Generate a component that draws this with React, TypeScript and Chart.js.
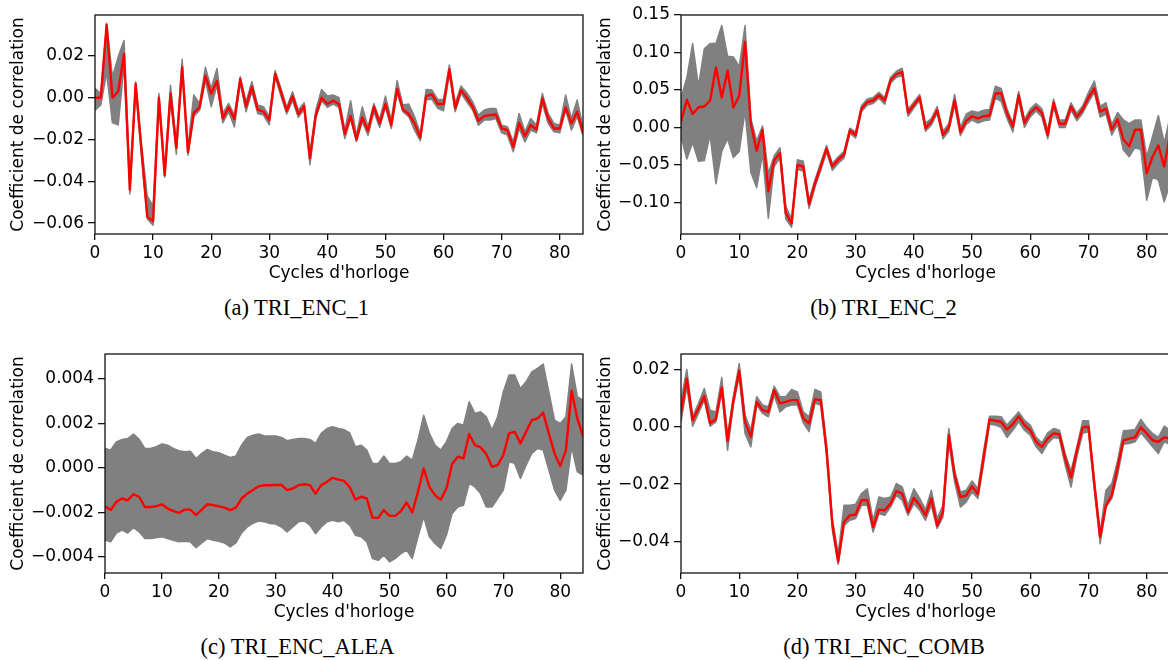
import React, { useEffect, useRef } from 'react';
import { Chart, registerables } from 'chart.js';

Chart.register(...registerables);

// ---------------- data ----------------
const cycles = [
  0, 1, 2, 3, 4, 5, 6, 7, 8, 9, 10, 11, 12, 13, 14, 15, 16, 17, 18, 19,
  20, 21, 22, 23, 24, 25, 26, 27, 28, 29, 30, 31, 32, 33, 34, 35, 36, 37, 38, 39,
  40, 41, 42, 43, 44, 45, 46, 47, 48, 49, 50, 51, 52, 53, 54, 55, 56, 57, 58, 59,
  60, 61, 62, 63, 64, 65, 66, 67, 68, 69, 70, 71, 72, 73, 74, 75, 76, 77, 78, 79,
  80, 81, 82, 83, 84,
];
const xTicks = [0, 10, 20, 30, 40, 50, 60, 70, 80];

// (a) TRI_ENC_1
const aMean = [
  0.0, 0.0, 0.0349, 0.0, 0.003, 0.021, -0.044, 0.0066, -0.025, -0.057,
  -0.059, 0.0, -0.037, 0.002, -0.024, 0.0146, -0.026, -0.0072, -0.0046, 0.0104,
  0.002, 0.008, -0.0099, -0.0046, -0.0102, 0.009, -0.0043, 0.0053, -0.0056, -0.0067,
  -0.0107, 0.0114, 0.0029, -0.0062, 0.0008, -0.0078, -0.004, -0.029, -0.0083, 0.0,
  -0.003, -0.0014, -0.003, -0.0174, -0.0088, -0.02, -0.0094, -0.0158, -0.0043, -0.0123,
  -0.003, -0.0131, 0.0042, -0.0056, -0.0078, -0.0123, -0.019, 0.0008, 0.0016, -0.003,
  -0.003, 0.0136, -0.0051, 0.0037, 0.0, -0.0043, -0.011, -0.0088, -0.0083, -0.008,
  -0.0147, -0.0155, -0.0235, -0.012, -0.0184, -0.0131, -0.0152, -0.0003, -0.0099, -0.0147,
  -0.0147, -0.0046, -0.0123, -0.0067, -0.0168,
];
const aHigh = [
  0.0045, 0.002, 0.0357, 0.01, 0.0197, 0.0274, -0.039, 0.0077, -0.022, -0.047,
  -0.052, 0.002, -0.0347, 0.006, -0.022, 0.0184, -0.0235, 0.0013, -0.0027, 0.0146,
  0.0045, 0.014, -0.0075, -0.0027, -0.0083, 0.01, -0.002, 0.0077, -0.0035, -0.0043,
  -0.009, 0.013, 0.0045, -0.0046, 0.0029, -0.006, -0.0024, -0.0267, -0.006, 0.004,
  0.0008, 0.0013, 0.0, -0.0155, -0.0014, -0.018, -0.0043, -0.014, -0.0027, -0.0104,
  0.0008, -0.0107, 0.0082, -0.0035, -0.003, -0.009, -0.0171, 0.004, 0.0037, -0.0008,
  -0.0008, 0.0157, -0.0027, 0.0056, 0.0024, -0.0019, -0.0083, -0.0059, -0.0051, -0.0051,
  -0.0131, -0.0139, -0.0211, -0.0075, -0.0163, -0.0099, -0.0131, 0.0021, -0.0075, -0.0123,
  -0.0131, 0.0013, -0.0099, -0.0011, -0.0139,
];
const aLow = [
  -0.006, -0.0035, 0.012, -0.012, -0.013, 0.016, -0.046, 0.0037, -0.028, -0.058,
  -0.061, -0.002, -0.038, -0.001, -0.027, 0.013, -0.0275, -0.009, -0.006, 0.0085,
  -0.0043, 0.006, -0.012, -0.0067, -0.014, 0.007, -0.0067, 0.003, -0.0075, -0.0083,
  -0.013, 0.01, 0.0008, -0.0078, -0.0014, -0.0094, -0.0056, -0.032, -0.0099, -0.0014,
  -0.0046, -0.003, -0.0046, -0.0195, -0.0099, -0.021, -0.0115, -0.018, -0.0067, -0.0142,
  -0.0043, -0.0147, 0.0024, -0.0067, -0.009, -0.0155, -0.0206, -0.0008, -0.0008, -0.0051,
  -0.0062, 0.0114, -0.0067, 0.0021, -0.0019, -0.0059, -0.0131, -0.0107, -0.0107, -0.0099,
  -0.0168, -0.0179, -0.0259, -0.0147, -0.0211, -0.0155, -0.0168, -0.0027, -0.0123, -0.0163,
  -0.0168, -0.0059, -0.0155, -0.009, -0.0179,
];
const aYTicks = [-0.06, -0.04, -0.02, 0.0, 0.02];

// (b) TRI_ENC_2
const bMean = [
  0.0076, 0.037, 0.018, 0.027, 0.028, 0.036, 0.08, 0.04, 0.076, 0.027,
  0.042, 0.114, 0.005, -0.031, -0.003, -0.085, -0.044, -0.034, -0.114, -0.128,
  -0.05, -0.052, -0.102, -0.075, -0.052, -0.028, -0.052, -0.043, -0.036, -0.004,
  -0.01, 0.025, 0.034, 0.036, 0.043, 0.036, 0.063, 0.071, 0.074, 0.0195,
  0.03, 0.04, -0.001, 0.0076, 0.023, -0.01, 0.0, 0.036, -0.006, 0.009,
  0.015, 0.012, 0.015, 0.016, 0.045, 0.046, 0.019, 0.001, 0.043, 0.006,
  0.0195, 0.027, 0.0195, -0.01, 0.033, 0.005, 0.005, 0.028, 0.014, 0.024,
  0.04, 0.052, 0.021, 0.025, -0.003, 0.011, -0.016, -0.025, -0.003, -0.003,
  -0.061, -0.039, -0.024, -0.052, -0.01,
];
const bHigh = [
  0.04, 0.066, 0.112, 0.055, 0.105, 0.112, 0.112, 0.136, 0.095, 0.094,
  0.081, 0.136, 0.012, -0.018, 0.002, -0.061, -0.038, -0.027, -0.105, -0.122,
  -0.043, -0.045, -0.097, -0.07, -0.047, -0.024, -0.048, -0.039, -0.032, -0.001,
  -0.006, 0.029, 0.038, 0.04, 0.047, 0.04, 0.067, 0.075, 0.079, 0.024,
  0.034, 0.044, 0.006, 0.012, 0.028, -0.005, 0.005, 0.044, 0.0, 0.018,
  0.022, 0.02, 0.023, 0.024, 0.055, 0.052, 0.025, 0.006, 0.048, 0.011,
  0.025, 0.032, 0.025, -0.004, 0.038, 0.01, 0.01, 0.033, 0.019, 0.029,
  0.047, 0.062, 0.028, 0.033, 0.004, 0.02, 0.01, 0.005, 0.01, 0.01,
  -0.039, -0.012, 0.016, -0.021, 0.014,
];
const bLow = [
  -0.012, -0.042, -0.02, -0.045, -0.044, -0.01, -0.075, -0.032, -0.015, -0.04,
  -0.032, 0.022, -0.06, -0.08, -0.035, -0.121, -0.052, -0.04, -0.122, -0.133,
  -0.056, -0.058, -0.108, -0.08, -0.057, -0.033, -0.057, -0.048, -0.041, -0.008,
  -0.014, 0.021, 0.03, 0.032, 0.039, 0.031, 0.059, 0.067, 0.069, 0.015,
  0.026, 0.036, -0.005, 0.003, 0.019, -0.015, -0.005, 0.03, -0.011, 0.004,
  0.01, 0.006, 0.009, 0.01, 0.039, 0.035, 0.012, -0.006, 0.037, 0.0,
  0.014, 0.022, 0.014, -0.015, 0.028, 0.0, 0.0, 0.023, 0.009, 0.019,
  0.034, 0.047, 0.014, 0.018, -0.01, 0.004, -0.03, -0.039, -0.026, -0.03,
  -0.097, -0.066, -0.07, -0.099, -0.075,
];
const bYTicks = [-0.1, -0.05, 0.0, 0.05, 0.1, 0.15];

// (c) TRI_ENC_ALEA
const cMean = [
  -0.00173, -0.0019, -0.00153, -0.00138, -0.00146, -0.00119, -0.0013, -0.00176, -0.00176, -0.00173,
  -0.00164, -0.00183, -0.00194, -0.00203, -0.00188, -0.00188, -0.00213, -0.00188, -0.00164, -0.00168,
  -0.00173, -0.00179, -0.0019, -0.00179, -0.00138, -0.00116, -0.001, -0.00083, -0.00078, -0.00078,
  -0.00077, -0.00077, -0.001, -0.00093, -0.00078, -0.00074, -0.00078, -0.00116, -0.00078, -0.00063,
  -0.00045, -0.00053, -0.00059, -0.00086, -0.00143, -0.0013, -0.00138, -0.00224, -0.00225, -0.0019,
  -0.00216, -0.00216, -0.00195, -0.00156, -0.00201, -0.00108, -0.00003, -0.00086, -0.00123, -0.00143,
  -0.00093, 0.00017, 0.0005, 0.00042, 0.00152, 0.00102, 0.00092, 0.00062, 0.00005, 0.00012,
  0.00057, 0.00155, 0.00162, 0.0011, 0.00162, 0.00215, 0.00222, 0.00248, 0.00155, 0.00065,
  0.00008, 0.0008, 0.00347, 0.00222, 0.00143,
];
const cHigh = [
  0.00087, 0.0008, 0.00117, 0.00128, 0.00132, 0.00152, 0.00128, 0.00087, 0.00087, 0.00095,
  0.00107, 0.00102, 0.00087, 0.00077, 0.00072, 0.00075, 0.00042, 0.00065, 0.00083, 0.00072,
  0.00068, 0.00057, 0.00047, 0.00053, 0.00102, 0.00137, 0.00147, 0.00152, 0.00143, 0.00143,
  0.00143, 0.00137, 0.00122, 0.00128, 0.00132, 0.00132, 0.00128, 0.0011, 0.00155, 0.00177,
  0.00185, 0.00177, 0.00172, 0.00157, 0.00095, 0.00102, 0.0008, 0.0002, 0.0002, 0.00053,
  0.0002, 0.0002, 0.00027, 0.00053, 0.00035, 0.00125, 0.00237, 0.00155, 0.00102, 0.0008,
  0.00117, 0.00177, 0.002, 0.00192, 0.00297, 0.00245, 0.00252, 0.0023, 0.0017, 0.0023,
  0.00342, 0.00417, 0.00417, 0.00357, 0.00387, 0.00432, 0.00447, 0.00467, 0.00342, 0.00215,
  0.002, 0.0023, 0.00467, 0.0032, 0.00305,
];
const cLow = [
  -0.00326, -0.00333, -0.00293, -0.0028, -0.00293, -0.00269, -0.00288, -0.00318, -0.00318, -0.00314,
  -0.0031, -0.00318, -0.00326, -0.00333, -0.0033, -0.00333, -0.00359, -0.00338, -0.00318, -0.00326,
  -0.0033, -0.00338, -0.00356, -0.00338, -0.00293, -0.00266, -0.0025, -0.00239, -0.00243, -0.0025,
  -0.00253, -0.00266, -0.00288, -0.00266, -0.00243, -0.00239, -0.00258, -0.00296, -0.00266, -0.00243,
  -0.00236, -0.00243, -0.00236, -0.00258, -0.00303, -0.0031, -0.00333, -0.00408, -0.00416, -0.00393,
  -0.00423, -0.00408, -0.00386, -0.0037, -0.00408, -0.0031, -0.0022, -0.0031, -0.0034, -0.00363,
  -0.00303, -0.00205, -0.00176, -0.00168, -0.0007, -0.00086, -0.00116, -0.00176, -0.00176, -0.00138,
  -0.001, 0.00027, 0.0002, -0.00048, 0.00012, 0.00065, 0.00087, 0.0008, -0.0001, -0.001,
  -0.00146, -0.001, 0.00095, -0.00018, -0.00033,
];
const cYTicks = [-0.004, -0.002, 0.0, 0.002, 0.004];

// (d) TRI_ENC_COMB
const dMean = [
  0.0047, 0.0169, 0.0023, 0.0064, 0.0107, 0.0012, 0.0027, 0.0137, -0.0049, 0.0093,
  0.0196, 0.0017, -0.0035, 0.0087, 0.0058, 0.0052, 0.0128, 0.0082, 0.0087, 0.0093,
  0.0093, 0.0029, 0.0012, 0.0096, 0.0093, -0.008, -0.034, -0.047, -0.0332, -0.0309,
  -0.0306, -0.0256, -0.0256, -0.035, -0.0289, -0.0291, -0.0268, -0.0224, -0.0233, -0.0297,
  -0.0248, -0.0274, -0.0309, -0.025, -0.0344, -0.0297, -0.0029, -0.0169, -0.0245, -0.0239,
  -0.0207, -0.0235, -0.0105, 0.0026, 0.0021, 0.0017, -0.0009, 0.0009, 0.0037, 0.0006,
  -0.0012, -0.0052, -0.007, -0.0041, -0.0023, -0.0026, -0.0111, -0.0177, -0.0082, -0.0002,
  0.0, -0.0198, -0.0384, -0.0274, -0.0239, -0.0142, -0.0047, -0.0041, -0.0037, -0.0002,
  -0.0023, -0.0047, -0.0052, -0.0037, -0.0041,
];
const dHigh = [
  0.0093, 0.02, 0.0037, 0.0082, 0.0134, 0.0058, 0.0052, 0.0172, -0.0029, 0.0105,
  0.0221, 0.0041, -0.0012, 0.0105, 0.0076, 0.007, 0.0142, 0.0105, 0.0105, 0.013,
  0.0122, 0.0052, 0.0035, 0.013, 0.0122, -0.006, -0.032, -0.0443, -0.0274, -0.0274,
  -0.027, -0.0233, -0.0216, -0.0326, -0.0245, -0.025, -0.0245, -0.0198, -0.021, -0.0274,
  -0.0216, -0.025, -0.0289, -0.0221, -0.032, -0.0274, -0.0006, -0.0151, -0.0227, -0.0221,
  -0.0189, -0.0216, -0.0082, 0.0037, 0.0037, 0.0035, 0.0006, 0.0029, 0.0052, 0.0023,
  0.0006, -0.0037, -0.0056, -0.0021, -0.0006, -0.0012, -0.0093, -0.0154, -0.007, 0.0021,
  0.0021, -0.0186, -0.0367, -0.0221, -0.0198, -0.0117, -0.0014, -0.0012, -0.0009, 0.0026,
  -0.0002, -0.0023, -0.0037, 0.0002, -0.0012,
];
const dLow = [
  0.0017, 0.014, 0.0002, 0.0047, 0.0093, 0.0002, 0.0017, 0.0122, -0.0082, 0.0076,
  0.0175, -0.0023, -0.007, 0.0076, 0.0047, 0.0035, 0.011, 0.0052, 0.007, 0.0076,
  0.0076, 0.0014, -0.0017, 0.0082, 0.0076, -0.01, -0.036, -0.048, -0.0344, -0.0326,
  -0.032, -0.0274, -0.0274, -0.0367, -0.0303, -0.0309, -0.028, -0.0239, -0.0256, -0.0309,
  -0.0268, -0.0291, -0.0326, -0.0274, -0.0355, -0.0315, -0.0052, -0.0192, -0.028, -0.0262,
  -0.0227, -0.025, -0.0128, 0.0009, 0.0006, -0.0002, -0.0037, -0.0012, 0.0017, -0.0012,
  -0.0029, -0.007, -0.0093, -0.0058, -0.0037, -0.0041, -0.0134, -0.021, -0.0105, -0.0023,
  -0.0017, -0.0221, -0.0408, -0.028, -0.025, -0.0169, -0.0061, -0.0058, -0.0052, -0.0021,
  -0.0044, -0.007, -0.0093, -0.0052, -0.0061,
];
const dYTicks = [-0.04, -0.02, 0.0, 0.02];

const xTitle = "Cycles d'horloge";
const yTitle = 'Coefficient de correlation';

// ---------------- rendering ----------------
const TICK_FONT = { family: '"DejaVu Sans", sans-serif', size: 17 };
const INK = '#000000';

const framePlugin = {
  id: 'frame',
  afterDatasetsDraw(chart: any) {
    const { ctx, chartArea } = chart;
    const { left, top, right, bottom } = chartArea;
    ctx.save();
    ctx.strokeStyle = '#111111';
    ctx.lineWidth = 1.3;
    ctx.strokeRect(left, top, right - left, bottom - top);
    ctx.restore();
  },
};

type PanelProps = {
  mean: number[];
  high: number[];
  low: number[];
  yTicks: number[];
  yMin: number;
  yMax: number;
  decimals: number;
  left: number;
  top: number;
  width: number;
  height: number;
  yAxisWidth: number;
  yTitlePad: number;
};

const toPoints = (vals: number[]) => cycles.map((x, i) => ({ x, y: vals[i] }));

function Panel(p: PanelProps) {
  const ref = useRef<HTMLCanvasElement | null>(null);
  useEffect(() => {
    if (!ref.current) return;
    const chart = new Chart(ref.current, {
      type: 'line',
      data: {
        datasets: [
          {
            label: 'moyenne',
            data: toPoints(p.mean),
            borderColor: '#ff0000',
            borderWidth: 2.4,
            borderJoinStyle: 'round',
            pointRadius: 0,
            fill: false,
            order: 0,
          },
          {
            label: 'max',
            data: toPoints(p.high),
            borderColor: '#808080',
            backgroundColor: '#808080',
            borderWidth: 1.5,
            borderJoinStyle: 'round',
            pointRadius: 0,
            fill: '+1',
            order: 1,
          },
          {
            label: 'min',
            data: toPoints(p.low),
            borderColor: '#808080',
            borderWidth: 1.5,
            borderJoinStyle: 'round',
            pointRadius: 0,
            fill: false,
            order: 2,
          },
        ],
      },
      options: {
        animation: false,
        responsive: false,
        events: [],
        layout: { padding: { top: 15, right: 5, left: 0, bottom: 0 } },
        plugins: { legend: { display: false }, tooltip: { enabled: false }, title: { display: false } },
        scales: {
          x: {
            type: 'linear',
            min: 0,
            max: 84,
            afterBuildTicks: (s: any) => {
              s.ticks = xTicks.map((v) => ({ value: v }));
            },
            afterFit: (s: any) => {
              s.height = 50;
              s.paddingLeft = 0;
              s.paddingRight = 0;
              s.paddingTop = 0;
              s.paddingBottom = 0;
            },
            ticks: {
              font: TICK_FONT,
              color: INK,
              padding: 3,
              maxRotation: 0,
              autoSkip: false,
              callback: (v: any) => String(v),
            },
            grid: { drawOnChartArea: false, drawTicks: true, tickLength: 6, color: '#111111', lineWidth: 1.3 },
            border: { display: false },
            title: { display: true, text: xTitle, font: TICK_FONT, color: INK, padding: { top: 0, bottom: 0 } },
          },
          y: {
            type: 'linear',
            min: p.yMin,
            max: p.yMax,
            afterBuildTicks: (s: any) => {
              s.ticks = p.yTicks.map((v) => ({ value: v }));
            },
            afterFit: (s: any) => {
              s.width = p.yAxisWidth;
              s.paddingLeft = 0;
              s.paddingRight = 0;
              s.paddingTop = 0;
              s.paddingBottom = 0;
            },
            ticks: {
              font: TICK_FONT,
              color: INK,
              padding: 4,
              autoSkip: false,
              callback: (v: any) => Number(v).toFixed(p.decimals).replace('-', '\u2212'),
            },
            grid: { drawOnChartArea: false, drawTicks: true, tickLength: 7, color: '#111111', lineWidth: 1.3 },
            border: { display: false },
            title: { display: true, text: yTitle, font: TICK_FONT, color: INK, padding: { top: p.yTitlePad, bottom: 0 } },
          },
        },
      },
      plugins: [framePlugin],
    } as any);
    return () => chart.destroy();
  }, []);
  return (
    <canvas
      ref={ref}
      width={p.width}
      height={p.height}
      style={{ position: 'absolute', left: p.left, top: p.top, width: p.width, height: p.height }}
    />
  );
}

function Caption({ text, cx, top }: { text: string; cx: number; top: number }) {
  return (
    <div
      style={{
        position: 'absolute',
        left: cx - 200,
        top,
        width: 400,
        textAlign: 'center',
        fontFamily: '"Liberation Serif", "Times New Roman", serif',
        fontSize: 22.5,
        color: '#000',
        whiteSpace: 'nowrap',
      }}
    >
      {text}
    </div>
  );
}

export default function App() {
  return (
    <div
      style={{
        position: 'absolute',
        left: 0,
        top: 0,
        width: 1168,
        height: 660,
        overflow: 'hidden',
        background: '#ffffff',
      }}
    >
      <Panel mean={aMean} high={aHigh} low={aLow} yTicks={aYTicks} yMin={-0.0652} yMax={0.0396} decimals={2}
        left={0} top={0} width={588} height={284} yAxisWidth={95} yTitlePad={8.8} />
      <Panel mean={bMean} high={bHigh} low={bLow} yTicks={bYTicks} yMin={-0.142} yMax={0.15} decimals={2}
        left={588} top={0} width={587} height={284} yAxisWidth={93} yTitlePad={7.5} />
      <Panel mean={cMean} high={cHigh} low={cLow} yTicks={cYTicks} yMin={-0.00473} yMax={0.00512} decimals={3}
        left={0} top={339} width={588} height={284} yAxisWidth={105} yTitlePad={8.8} />
      <Panel mean={dMean} high={dHigh} low={dLow} yTicks={dYTicks} yMin={-0.051} yMax={0.0254} decimals={2}
        left={588} top={339} width={587} height={284} yAxisWidth={93} yTitlePad={7.5} />
      <Caption text="(a) TRI_ENC_1" cx={296.5} top={295} />
      <Caption text="(b) TRI_ENC_2" cx={883.5} top={295} />
      <Caption text="(c) TRI_ENC_ALEA" cx={297.5} top={634} />
      <Caption text="(d) TRI_ENC_COMB" cx={884} top={634} />
    </div>
  );
}
